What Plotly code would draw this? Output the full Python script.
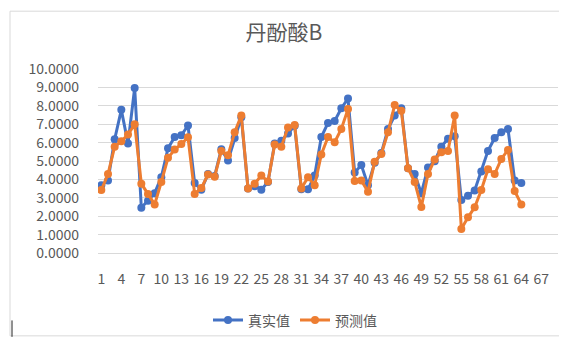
import plotly.graph_objects as go

title_text = "丹酚酸B"
series_names = ["真实值", "预测值"]
x_index = list(range(1, 65))
true_values = [3.68, 3.94, 6.18, 7.78, 5.95, 8.97, 2.46, 2.84, 3.25, 4.12,
               5.69, 6.30, 6.40, 6.93, 3.80, 3.44, 4.29, 4.19, 5.64, 5.03,
               6.25, 7.38, 3.51, 3.63, 3.44, 3.86, 5.95, 6.10, 6.50, 6.91,
               3.46, 3.46, 4.21, 6.30, 7.07, 7.18, 7.87, 8.39, 4.38, 4.78,
               3.68, 4.90, 5.43, 6.74, 7.47, 7.87, 4.61, 4.29, 3.25, 4.64,
               4.99, 5.78, 6.21, 6.35, 2.88, 3.11, 3.40, 4.43, 5.55, 6.25,
               6.56, 6.74, 3.94, 3.80]
pred_values = [3.42, 4.29, 5.78, 6.07, 6.44, 7.00, 3.77, 3.21, 2.64, 3.86,
               5.17, 5.62, 5.92, 6.29, 3.21, 3.53, 4.26, 4.15, 5.55, 5.31,
               6.56, 7.47, 3.51, 3.77, 4.21, 3.89, 5.90, 5.78, 6.82, 6.95,
               3.51, 4.12, 3.68, 5.36, 6.30, 6.02, 6.74, 7.82, 3.91, 3.94,
               3.33, 4.96, 5.38, 6.56, 8.04, 7.73, 4.61, 3.86, 2.50, 4.29,
               5.08, 5.48, 5.55, 7.47, 1.31, 1.94, 2.48, 3.42, 4.55, 4.29,
               5.11, 5.60, 3.37, 2.64]
x_tick_vals = list(range(1, 68, 3))
y_tick_vals = [0, 1, 2, 3, 4, 5, 6, 7, 8, 9, 10]

FONT = "Noto Sans CJK SC"
GREY = "#595959"
GRID = "#D9D9D9"
colors = ["#4472C4", "#ED7D31"]

fig = go.Figure()
for name, vals, c in zip(series_names, [true_values, pred_values], colors):
    fig.add_trace(go.Scatter(
        x=x_index, y=vals, name=name, mode="lines+markers",
        line=dict(color=c, width=3),
        marker=dict(color=c, size=8),
    ))

W, H = 567, 341
L, R, T, B = 90, 17, 61, 89
pw, ph = W - L - R, H - T - B


def px_x(p):
    return (p - L) / pw


def px_y(p):
    return (H - B - p) / ph


fig.update_layout(
    width=W, height=H,
    margin=dict(l=L, r=R, t=T, b=B, pad=0),
    paper_bgcolor="white", plot_bgcolor="white",
    font=dict(family=FONT, color=GREY, size=14),
    title=dict(text=title_text, x=276 / W, xref="container", xanchor="center",
               y=1 - 25 / H, yref="container", yanchor="middle",
               font=dict(family=FONT, size=21, color=GREY)),
    showlegend=True,
    legend=dict(orientation="h", x=px_x(287), xanchor="center",
                y=px_y(322), yanchor="middle",
                font=dict(family=FONT, size=14, color=GREY),
                bgcolor="rgba(0,0,0,0)"),
    xaxis=dict(range=[0.5, 69.5], tickvals=x_tick_vals,
               ticktext=[str(v) for v in x_tick_vals], tickangle=0,
               showgrid=False, zeroline=False, showline=True,
               linecolor=GRID, linewidth=1, ticks="",
               ticklabelstandoff=13,
               tickfont=dict(family=FONT, size=14, color=GREY)),
    yaxis=dict(range=[0, 10], tickvals=y_tick_vals, tickformat=".4f",
               showgrid=True, gridcolor=GRID, gridwidth=1, zeroline=False,
               showline=False, ticks="", ticklabelstandoff=18,
               tickfont=dict(family=FONT, size=14, color=GREY)),
    shapes=[
        dict(type="rect", xref="paper", yref="paper",
             x0=px_x(2), x1=px_x(563), y0=px_y(338), y1=px_y(1),
             line=dict(color=GRID, width=1), fillcolor="rgba(0,0,0,0)",
             layer="below"),
        dict(type="line", xref="paper", yref="paper",
             x0=px_x(4), x1=px_x(4), y0=px_y(322), y1=px_y(339),
             line=dict(color="#222222", width=1)),
    ],
)

fig.write_html("out.html")
